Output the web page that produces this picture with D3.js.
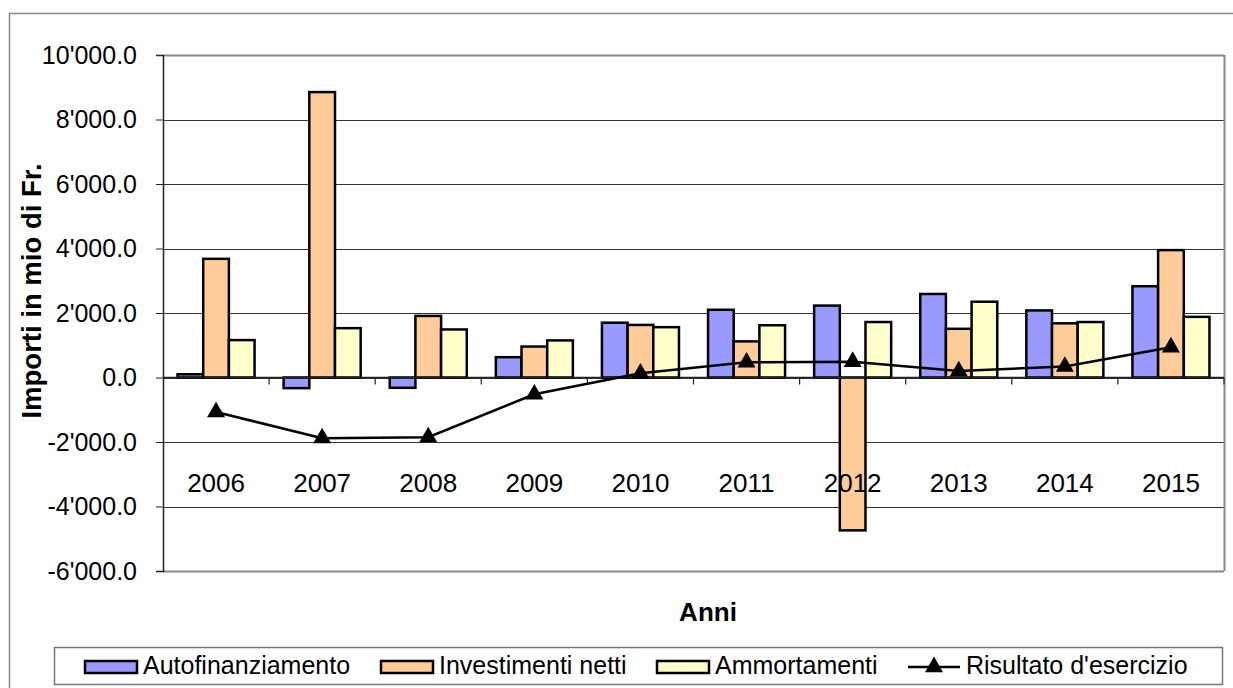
<!DOCTYPE html>
<html>
<head>
<meta charset="utf-8">
<script src="https://cdn.jsdelivr.net/npm/d3@7"></script>
<style>
body { margin: 0; background: #fff; }
text { font-family: "Liberation Sans", Arial, sans-serif; }
</style>
</head>
<body>
<div id="chart"></div>
<script>
var W = 1233, H = 688;

var anni = ['2006','2007','2008','2009','2010','2011','2012','2013','2014','2015'];
var autofinanziamento = [100, -330, -320, 630, 1700, 2100, 2230, 2590, 2080, 2830];
var investimenti = [3680, 8850, 1910, 960, 1630, 1120, -4740, 1510, 1680, 3950];
var ammortamenti = [1160, 1530, 1490, 1150, 1560, 1620, 1720, 2350, 1720, 1880];
var risultato = [-1070, -1880, -1850, -520, 130, 470, 490, 200, 340, 940];
var yTicks = [-6000, -4000, -2000, 0, 2000, 4000, 6000, 8000, 10000];

var serie = [
	{ nome: 'Autofinanziamento', valori: autofinanziamento, colore: '#9999ff' },
	{ nome: 'Investimenti netti', valori: investimenti, colore: '#ffcc99' },
	{ nome: 'Ammortamenti', valori: ammortamenti, colore: '#ffffcc' }
];

var L = 163, R = 1224, T = 55, B = 571;

var svg = d3.select('#chart').append('svg')
	.attr('width', W)
	.attr('height', H);

// outer frame
svg.append('path')
	.attr('d', 'M9.5 ' + H + ' L9.5 13.5 L' + W + ' 13.5')
	.attr('fill', 'none')
	.attr('stroke', '#888')
	.attr('stroke-width', 1.5);

var x0 = d3.scaleBand().domain(anni).range([L, R]);
var x1 = d3.scaleBand().domain(serie.map(function(d) { return d.nome; }))
	.range([0, x0.bandwidth()])
	.paddingOuter(0.566);
var y = d3.scaleLinear().domain([-6000, 10000]).range([B, T]);

// gridlines
svg.append('g').selectAll('line')
	.data(yTicks)
	.enter().append('line')
	.attr('x1', L).attr('x2', R)
	.attr('y1', function(d) { return Math.round(y(d)) + 0.5; })
	.attr('y2', function(d) { return Math.round(y(d)) + 0.5; })
	.attr('stroke', function(d) { return d == 10000 || d == -6000 ? '#888' : '#333'; })
	.attr('stroke-width', function(d) { return d == 10000 || d == -6000 ? 2 : 1; });

// right border of plot
svg.append('line')
	.attr('x1', R + 0.5).attr('x2', R + 0.5)
	.attr('y1', T).attr('y2', B)
	.attr('stroke', '#888').attr('stroke-width', 2);

// y axis
var fmt = function(d) {
	var s = d3.format(',.1f')(d).replace(/,/g, "'");
	return s.replace('−', '-');
};
var yAxis = d3.axisLeft(y).tickValues(yTicks).tickSize(7).tickPadding(19).tickFormat(fmt);
var gy = svg.append('g')
	.attr('transform', 'translate(' + L + ',0)')
	.call(yAxis);
gy.select('.domain').attr('stroke', '#222').attr('stroke-width', 1.5);
gy.selectAll('.tick line').attr('stroke', '#222');
gy.selectAll('text')
	.attr('font-size', '25px')
	.attr('fill', '#000')
	.attr('font-family', '"Liberation Sans", Arial, sans-serif');

// bars
var gruppi = svg.append('g').selectAll('g')
	.data(anni)
	.enter().append('g')
	.attr('transform', function(d) { return 'translate(' + x0(d) + ',0)'; });

gruppi.selectAll('rect')
	.data(function(d, i) {
		return serie.map(function(s) { return { nome: s.nome, v: s.valori[i], colore: s.colore }; });
	})
	.enter().append('rect')
	.attr('x', function(d) { return x1(d.nome); })
	.attr('width', x1.bandwidth())
	.attr('y', function(d) { return y(Math.max(0, d.v)); })
	.attr('height', function(d) { return Math.abs(y(d.v) - y(0)); })
	.attr('fill', function(d) { return d.colore; })
	.attr('stroke', '#000')
	.attr('stroke-width', 2.5);

// zero axis with category ticks
var zeroY = y(0);
svg.append('line')
	.attr('x1', L).attr('x2', R)
	.attr('y1', zeroY).attr('y2', zeroY)
	.attr('stroke', '#222').attr('stroke-width', 1.5);
svg.append('g').selectAll('line')
	.data(anni)
	.enter().append('line')
	.attr('x1', function(d) { return x0(d) + x0.bandwidth(); })
	.attr('x2', function(d) { return x0(d) + x0.bandwidth(); })
	.attr('y1', zeroY).attr('y2', zeroY + 7)
	.attr('stroke', '#222').attr('stroke-width', 1.2);

// category labels
svg.append('g').selectAll('text')
	.data(anni)
	.enter().append('text')
	.attr('x', function(d) { return x0(d) + x0.bandwidth() / 2; })
	.attr('y', 492)
	.attr('text-anchor', 'middle')
	.attr('font-size', '26px')
	.text(function(d) { return d; });

// line series
var linea = d3.line()
	.x(function(d, i) { return x0(anni[i]) + x0.bandwidth() / 2; })
	.y(function(d) { return y(d); });
svg.append('path')
	.datum(risultato)
	.attr('d', linea)
	.attr('fill', 'none')
	.attr('stroke', '#000')
	.attr('stroke-width', 2.5);

var tri = d3.symbol().type(d3.symbolTriangle).size(140);
svg.append('g').selectAll('path')
	.data(risultato)
	.enter().append('path')
	.attr('d', tri)
	.attr('transform', function(d, i) {
		return 'translate(' + (x0(anni[i]) + x0.bandwidth() / 2) + ',' + y(d) + ')';
	})
	.attr('fill', '#000');

// axis titles
svg.append('text')
	.attr('transform', 'translate(41,291) rotate(-90)')
	.attr('text-anchor', 'middle')
	.attr('font-size', '27.5px')
	.attr('font-weight', 'bold')
	.text('Importi in mio di Fr.');

svg.append('text')
	.attr('x', 708)
	.attr('y', 621)
	.attr('text-anchor', 'middle')
	.attr('font-size', '26px')
	.attr('font-weight', 'bold')
	.text('Anni');

// legend
svg.append('rect')
	.attr('x', 54.5).attr('y', 647.5)
	.attr('width', 1168).attr('height', 37)
	.attr('fill', '#fff')
	.attr('stroke', '#777')
	.attr('stroke-width', 1.5);

var legX = [85, 381, 657];
var leg = svg.append('g').selectAll('g')
	.data(serie)
	.enter().append('g')
	.attr('transform', function(d, i) { return 'translate(' + legX[i] + ',0)'; });
leg.append('rect')
	.attr('x', 0).attr('y', 661)
	.attr('width', 52).attr('height', 12)
	.attr('fill', function(d) { return d.colore; })
	.attr('stroke', '#000')
	.attr('stroke-width', 2.5);
leg.append('text')
	.attr('x', 58).attr('y', 674)
	.attr('font-size', '25px')
	.text(function(d) { return d.nome; });

svg.append('line')
	.attr('x1', 908).attr('x2', 960)
	.attr('y1', 667).attr('y2', 667)
	.attr('stroke', '#000').attr('stroke-width', 2.5);
svg.append('path')
	.attr('d', tri)
	.attr('transform', 'translate(934,667)')
	.attr('fill', '#000');
svg.append('text')
	.attr('x', 966).attr('y', 674)
	.attr('font-size', '25px')
	.text("Risultato d'esercizio");
</script>
</body>
</html>
